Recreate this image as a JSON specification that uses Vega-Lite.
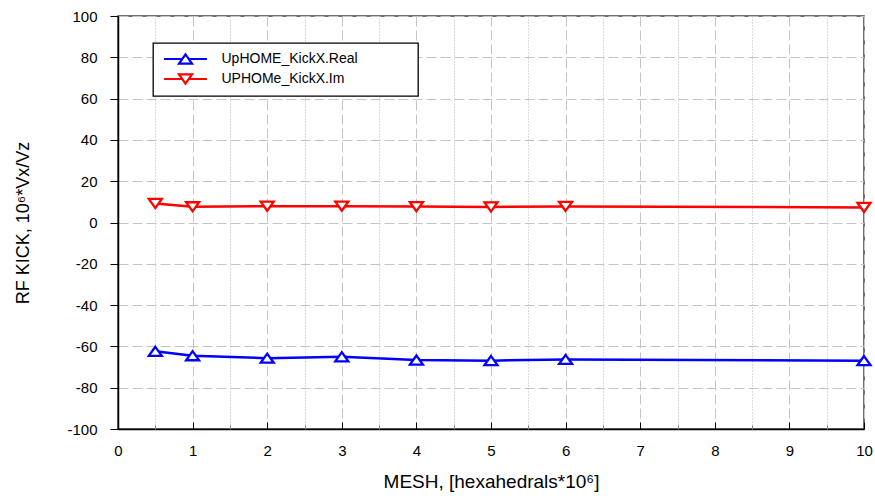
{
  "$schema": "https://vega.github.io/schema/vega-lite/v6.json",
  "width": 746,
  "height": 413,
  "autosize": {"type": "none"},
  "padding": {"left": 118, "top": 16, "right": 11, "bottom": 67},
  "background": "white",
  "config": {
    "view": {"stroke": "#404040", "strokeWidth": 1.5},
    "font": "Liberation Sans",
    "axis": {
      "labelFont": "Liberation Sans",
      "titleFont": "Liberation Sans",
      "labelColor": "black",
      "titleColor": "black",
      "labelFontSize": 15,
      "titleFontSize": 18,
      "titleFontWeight": "normal",
      "labelFlush": false,
      "labelOverlap": false,
      "gridColor": "#c4c4c4",
      "gridWidth": 1,
      "domainColor": "black",
      "domainWidth": 1.5,
      "tickColor": "black",
      "tickWidth": 1
    }
  },
  "data": {
    "values": [
      {"series": "UpHOME_KickX.Real", "mesh": 0.5, "kick": -62.4},
      {"series": "UpHOME_KickX.Real", "mesh": 1, "kick": -64.5},
      {"series": "UpHOME_KickX.Real", "mesh": 2, "kick": -65.7},
      {"series": "UpHOME_KickX.Real", "mesh": 3, "kick": -65.0},
      {"series": "UpHOME_KickX.Real", "mesh": 4, "kick": -66.6},
      {"series": "UpHOME_KickX.Real", "mesh": 5, "kick": -66.9},
      {"series": "UpHOME_KickX.Real", "mesh": 6, "kick": -66.3},
      {"series": "UpHOME_KickX.Real", "mesh": 10, "kick": -66.9},
      {"series": "UPHOMe_KickX.Im", "mesh": 0.5, "kick": 9.2},
      {"series": "UPHOMe_KickX.Im", "mesh": 1, "kick": 7.6},
      {"series": "UPHOMe_KickX.Im", "mesh": 2, "kick": 7.9},
      {"series": "UPHOMe_KickX.Im", "mesh": 3, "kick": 7.9},
      {"series": "UPHOMe_KickX.Im", "mesh": 4, "kick": 7.7},
      {"series": "UPHOMe_KickX.Im", "mesh": 5, "kick": 7.5},
      {"series": "UPHOMe_KickX.Im", "mesh": 6, "kick": 7.8},
      {"series": "UPHOMe_KickX.Im", "mesh": 10, "kick": 7.3}
    ]
  },
  "encoding": {
    "y": {
      "field": "kick",
      "type": "quantitative",
      "scale": {"domain": [-100, 100], "nice": false, "zero": false},
      "axis": {
        "title": "RF KICK, 10⁶*Vx/Vz",
        "values": [-100, -80, -60, -40, -20, 0, 20, 40, 60, 80, 100],
        "labelExpr": "replace(datum.label, '\u2212', '-')",
        "grid": true,
        "gridDash": [10, 4],
        "tickSize": 8,
        "labelPadding": 13,
        "titlePadding": 34
      }
    },
    "color": {
      "field": "series",
      "type": "nominal",
      "scale": {"domain": ["UpHOME_KickX.Real", "UPHOMe_KickX.Im"], "range": ["#0000ff", "#ff0000"]},
      "legend": {
        "orient": "none",
        "legendX": 35,
        "legendY": 27,
        "title": null,
        "padding": 8,
        "strokeColor": "black",
        "fillColor": "white",
        "symbolSize": 169,
        "symbolStrokeWidth": 2.2,
        "symbolFillColor": "white",
        "symbolOffset": 16.5,
        "labelOffset": 28,
        "labelFont": "Liberation Sans",
        "labelFontSize": 14,
        "labelColor": "black",
        "rowPadding": 2,
        "encode": {
          "symbols": {"update": {"shape": {"signal": "datum.value === 'UpHOME_KickX.Real' ? 'M-3.3,0H-0.5M0.5,0H3.3M0,-0.7L1,0.7L-1,0.7ZM33.8,0' : 'M-3.3,0H-0.5M0.5,0H3.3M0,0.7L1,-0.7L-1,-0.7ZM33.8,0'"}}},
          "legend": {"update": {"strokeWidth": {"value": 1.3}}}
        }
      }
    }
  },
  "layer": [
    {
      "mark": {"type": "line", "strokeWidth": 2.5},
      "encoding": {
        "x": {
          "field": "mesh",
          "type": "quantitative",
          "scale": {"domain": [0, 10], "nice": false},
          "axis": {
            "orient": "bottom",
            "title": "MESH, [hexahedrals*10⁶]",
            "titleFontSize": 19,
            "values": [0, 1, 2, 3, 4, 5, 6, 7, 8, 9, 10],
            "format": "d",
            "grid": true,
            "gridDash": [10, 4],
            "tickSize": -7,
            "labelPadding": 21,
            "titlePadding": 14
          }
        }
      }
    },
    {
      "mark": {"type": "point", "filled": false, "fill": "white", "size": 169, "strokeWidth": 2.3, "opacity": 1},
      "encoding": {
        "x": {
          "field": "mesh",
          "type": "quantitative",
          "axis": {
            "orient": "bottom",
            "title": null,
            "values": [0.5, 1.5, 2.5, 3.5, 4.5, 5.5, 6.5, 7.5, 8.5, 9.5],
            "grid": true,
            "gridDash": [1, 2],
            "gridColor": "#b4b4b4",
            "domain": false,
            "labels": false,
            "tickSize": -4,
            "tickColor": "#808080"
          }
        },
        "shape": {
          "condition": {"test": "datum.series === 'UpHOME_KickX.Real'", "value": "M0,-0.7L1,0.7L-1,0.7Z"},
          "value": "M0,0.7L1,-0.7L-1,-0.7Z"
        }
      }
    }
  ],
  "resolve": {"axis": {"x": "independent"}}
}
